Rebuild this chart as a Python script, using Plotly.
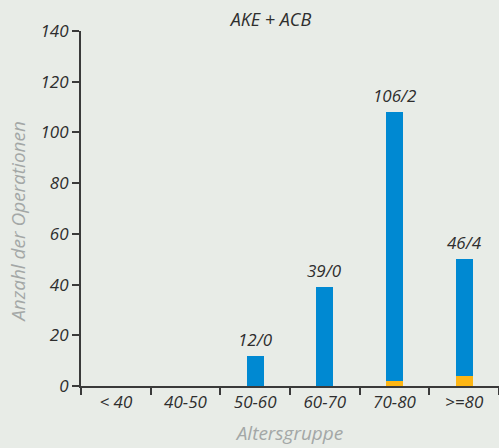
import plotly.graph_objects as go

# Age groups and operation counts (survivors / deaths)
altersgruppen = ["< 40", "40-50", "50-60", "60-70", "70-80", ">=80"]
ueberlebt = [0, 0, 12, 39, 106, 46]
verstorben = [0, 0, 0, 0, 2, 4]
beschriftet = [False, False, True, True, True, True]

y_ticks = [0, 20, 40, 60, 80, 100, 120, 140]

BG = "#e8ece7"
BLUE = "#0089d2"
ORANGE = "#fdb614"
TEXT = "#2e2e2e"
GREY = "#a3a7a6"
FONT = "Open Sans"

fig = go.Figure()
fig.add_trace(go.Bar(x=altersgruppen, y=verstorben, marker=dict(color=ORANGE, line_width=0),
                     width=0.245, hoverinfo="skip"))
fig.add_trace(go.Bar(x=altersgruppen, y=ueberlebt, marker=dict(color=BLUE, line_width=0),
                     width=0.245, hoverinfo="skip"))

for cat, u, v, show in zip(altersgruppen, ueberlebt, verstorben, beschriftet):
    if show:
        fig.add_annotation(x=cat, y=u + v, text=f"{u}/{v}", showarrow=False,
                           yanchor="bottom", yshift=3,
                           font=dict(family=FONT, size=17, color=TEXT, style="italic"))

# vertical axis title, placed a little below the plot-area centre
fig.add_annotation(text="Anzahl der Operationen", xref="paper", yref="paper",
                   x=-0.151, y=0.462, xanchor="center", yanchor="middle",
                   textangle=-90, showarrow=False,
                   font=dict(family=FONT, size=19, color=GREY, style="italic"))

fig.update_layout(
    barmode="stack",
    width=499, height=448,
    margin=dict(l=81, r=0, t=31, b=62),
    paper_bgcolor=BG, plot_bgcolor=BG,
    showlegend=False,
    title=dict(text="AKE + ACB", x=0.543, xanchor="center", y=0.955, yanchor="middle",
               font=dict(family=FONT, size=18, color=TEXT, style="italic")),
    xaxis=dict(
        type="category", categoryorder="array", categoryarray=altersgruppen,
        tickson="boundaries", ticks="outside", ticklen=7, tickwidth=2, tickcolor="#3a3a3a",
        showline=True, linecolor="#3a3a3a", linewidth=2, showgrid=False,
        tickfont=dict(family=FONT, size=17, color=TEXT, style="italic"),
        title=dict(text="Altersgruppe", standoff=14,
                   font=dict(family=FONT, size=19, color=GREY, style="italic")),
    ),
    yaxis=dict(
        range=[0, 140], tickvals=y_ticks, ticks="outside", ticklen=7, tickwidth=2,
        tickcolor="#3a3a3a", showline=True, linecolor="#3a3a3a", linewidth=2,
        showgrid=False, zeroline=False,
        tickfont=dict(family=FONT, size=17, color=TEXT, style="italic"),
    ),
)

fig.write_html("out.html")
